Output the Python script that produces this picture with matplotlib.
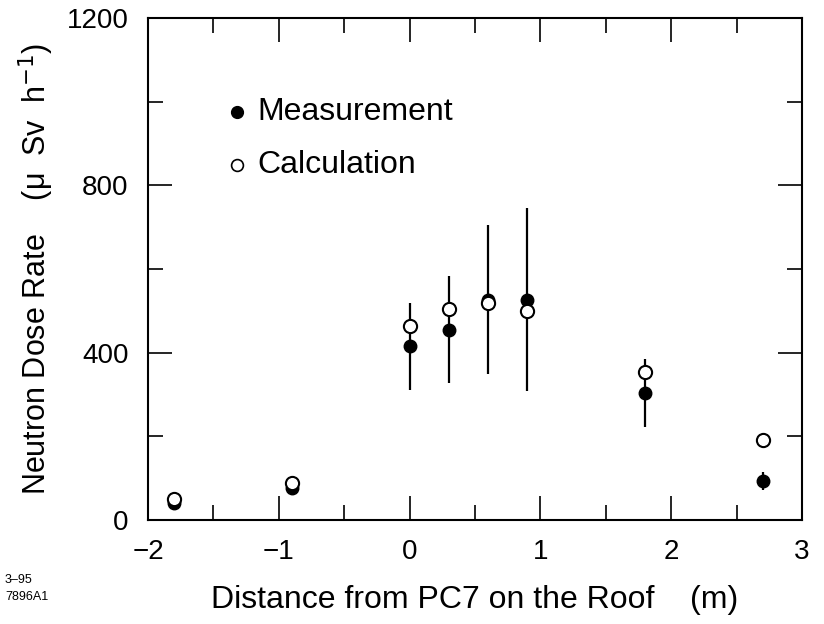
import matplotlib
matplotlib.use("Agg")
import matplotlib.pyplot as plt
from matplotlib.ticker import MultipleLocator

plt.rcParams['font.family'] = ['Liberation Sans', 'DejaVu Sans']

# Data
x_pos = [-1.8, -0.9, 0.0, 0.3, 0.6, 0.9, 1.8, 2.7]
measurement = [40, 76, 415, 455, 527, 527, 304, 93]
meas_err = [0, 0, 104, 128, 177, 218, 81, 22]
calculation = [50, 88, 464, 505, 519, 500, 354, 191]

x_ticks = [-2, -1, 0, 1, 2, 3]
y_ticks = [0, 400, 800, 1200]

fig = plt.figure(figsize=(8.24, 6.24), dpi=100)
ax = fig.add_axes([148/824, (624-520)/624, (802-148)/824, (520-18)/624])

ax.errorbar(x_pos, measurement, yerr=meas_err, fmt='none', ecolor='black',
            elinewidth=1.6, capsize=0, zorder=2)
ax.plot(x_pos, measurement, 'o', color='black', markersize=9, zorder=3)
ax.plot(x_pos, calculation, 'o', markerfacecolor='white', markeredgecolor='black',
        markeredgewidth=1.5, markersize=9.5, zorder=4)

ax.set_xlim(-2, 3)
ax.set_ylim(0, 1200)
ax.set_xticks(x_ticks)
ax.set_yticks(y_ticks)
ax.xaxis.set_minor_locator(MultipleLocator(0.5))
ax.yaxis.set_minor_locator(MultipleLocator(200))
ax.tick_params(which='both', direction='in', top=True, right=True, width=1.2)
ax.tick_params(which='major', length=17)
ax.tick_params(which='minor', length=11)
ax.tick_params(axis='x', which='major', labelsize=20, pad=14)
ax.tick_params(axis='y', which='major', labelsize=20, pad=14)
for s in ax.spines.values():
    s.set_linewidth(1.5)

ax.set_xlabel('Distance from PC7 on the Roof    (m)', fontsize=23, labelpad=14)
ax.set_ylabel('Neutron Dose Rate    (μ  Sv  h$^{-1}$)', fontsize=22, labelpad=8)

# Legend (manual)
ax.plot([-1.32], [976], 'o', color='black', markersize=8.5, clip_on=False)
ax.text(-1.16, 976, 'Measurement', fontsize=23, va='center', ha='left')
ax.plot([-1.32], [849], 'o', markerfacecolor='white', markeredgecolor='black',
        markeredgewidth=1.2, markersize=8.5, clip_on=False)
ax.text(-1.16, 849, 'Calculation', fontsize=23, va='center', ha='left')

fig.text(5/824, 1-580/624, '3–95', fontsize=9, va='center', ha='left')
fig.text(5/824, 1-597/624, '7896A1', fontsize=9, va='center', ha='left')

fig.savefig('out.png', dpi=100)
